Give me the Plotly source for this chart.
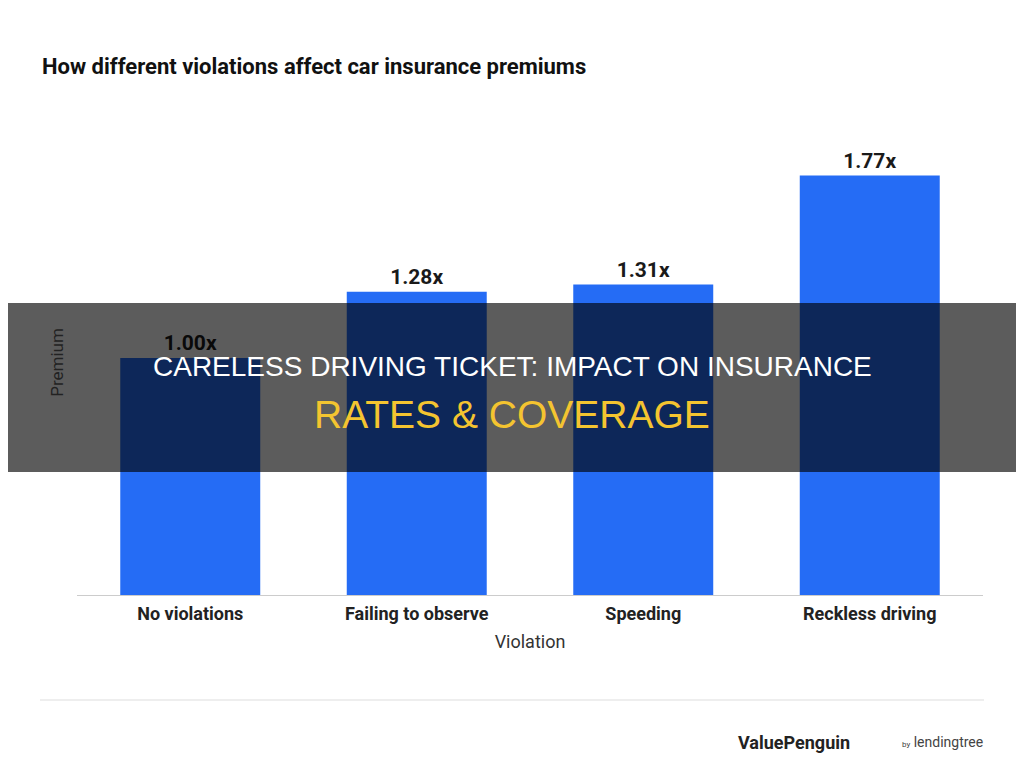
import plotly.graph_objects as go

categories = ["No violations", "Failing to observe", "Speeding", "Reckless driving"]
premiums = [1.00, 1.28, 1.31, 1.77]
labels = ["1.00x", "1.28x", "1.31x", "1.77x"]

title_text = "How different violations affect car insurance premiums"
overlay_line1 = "CARELESS DRIVING TICKET: IMPACT ON INSURANCE"
overlay_line2 = "RATES & COVERAGE"

FONT = "Roboto, Arial, sans-serif"
OVERLAY_FONT = "Liberation Sans, Arial, sans-serif"

# The page body has an 8px margin, so the figure starts at (8, 8).
FIG_W, FIG_H = 1016, 758
OFF = 8
PLOT_L, PLOT_R, PLOT_T, PLOT_B = 77, 983, 130, 595  # page pixel bounds of plot area

fig = go.Figure()
fig.add_trace(go.Bar(
    x=categories,
    y=premiums,
    text=["<b>" + t + "</b>" for t in labels],
    textposition="outside",
    textfont=dict(family=FONT, size=21, color="#1a1a1a"),
    marker=dict(color="#256cf5", line=dict(width=0)),
    width=0.618,
    cliponaxis=False,
    hoverinfo="skip",
))

fig.update_layout(
    width=FIG_W,
    height=FIG_H,
    paper_bgcolor="white",
    plot_bgcolor="white",
    margin=dict(l=PLOT_L - OFF, r=FIG_W - (PLOT_R - OFF), t=PLOT_T - OFF,
                b=FIG_H - (PLOT_B - OFF)),
    showlegend=False,
    font=dict(family=FONT, color="#222"),
    xaxis=dict(
        showline=True, linecolor="#cccccc", linewidth=1,
        ticks="", showgrid=False, ticklabelstandoff=2,
        tickfont=dict(family=FONT, size=18, color="#222"),
        tickvals=categories,
        ticktext=["<b>" + c + "</b>" for c in categories],
        title=dict(text="Violation", font=dict(size=18, color="#333"), standoff=12),
    ),
    yaxis=dict(
        range=[0, 1.962], showgrid=False, showticklabels=False, zeroline=False,
        title=dict(text="Premium", font=dict(size=17, color="#222"), standoff=8),
    ),
)


def px_x(px):
    return (px - PLOT_L) / (PLOT_R - PLOT_L)


def px_y(py):
    return (PLOT_B - py) / (PLOT_B - PLOT_T)


# Chart title
fig.add_annotation(
    x=px_x(40), y=px_y(67), xref="paper", yref="paper", text="<b>" + title_text + "</b>",
    showarrow=False, font=dict(family=FONT, size=22, color="#111"),
    xanchor="left", yanchor="middle",
)

# Footer line and logo text
fig.add_shape(type="line", xref="paper", yref="paper",
              x0=px_x(40), x1=px_x(984), y0=px_y(700), y1=px_y(700),
              line=dict(color="#dddddd", width=1))
fig.add_annotation(
    x=px_x(852), y=px_y(742), xref="paper", yref="paper",
    text="<b>ValuePenguin</b>", showarrow=False,
    font=dict(family=FONT, size=18, color="#222"), xanchor="right", yanchor="middle",
)
fig.add_annotation(
    x=px_x(900), y=px_y(742), xref="paper", yref="paper",
    text="<span style='font-size:8px'>by</span> lendingtree", showarrow=False,
    font=dict(family=FONT, size=14, color="#444"), xanchor="left", yanchor="middle",
)

# Dark overlay band
fig.add_shape(type="rect", xref="paper", yref="paper",
              x0=px_x(0), x1=px_x(1030), y0=px_y(472), y1=px_y(303),
              fillcolor="rgba(0,0,0,0.64)", line=dict(width=0), layer="above")
fig.add_annotation(
    x=px_x(512), y=px_y(366), xref="paper", yref="paper", text=overlay_line1,
    showarrow=False, font=dict(family=OVERLAY_FONT, size=28, color="white"),
    xanchor="center", yanchor="middle",
)
fig.add_annotation(
    x=px_x(512), y=px_y(414), xref="paper", yref="paper", text=overlay_line2,
    showarrow=False, font=dict(family=OVERLAY_FONT, size=39, color="#f4c430"),
    xanchor="center", yanchor="middle",
)

fig.write_html("out.html")
